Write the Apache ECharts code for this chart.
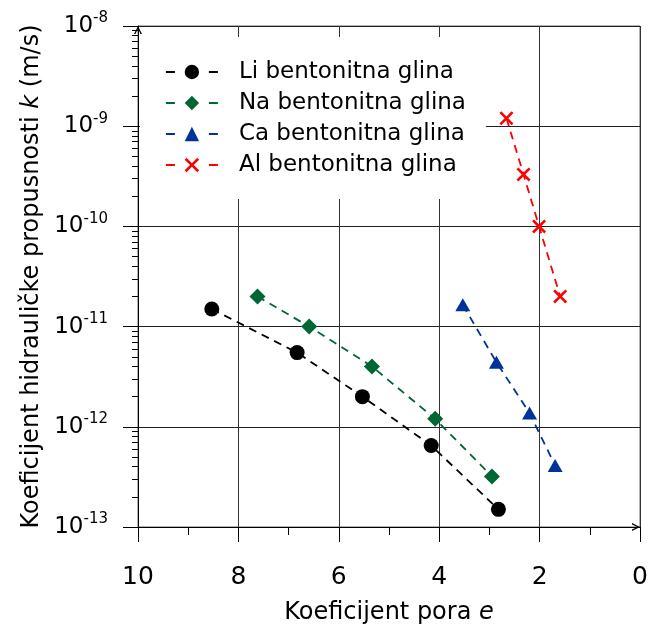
<!DOCTYPE html>
<html>
<head>
<meta charset="utf-8">
<script src="https://cdn.jsdelivr.net/npm/echarts@6/dist/echarts.min.js"></script>
<style>
html,body{margin:0;padding:0;background:#fff;}
#c{width:650px;height:627px;}
</style>
</head>
<body>
<div id="c"></div>
<script>
// Data
var seriesNames = ['Li bentonitna glina', 'Na bentonitna glina', 'Ca bentonitna glina', 'Al bentonitna glina'];
var liE = [8.53, 6.83, 5.53, 4.16, 2.82];
var liK = [1.5e-11, 5.5e-12, 2.0e-12, 6.5e-13, 1.5e-13];
var naE = [7.62, 6.59, 5.34, 4.08, 2.95];
var naK = [2.0e-11, 1.0e-11, 4.0e-12, 1.2e-12, 3.2e-13];
var caE = [3.53, 2.86, 2.20, 1.69];
var caK = [1.65e-11, 4.4e-12, 1.37e-12, 4.1e-13];
var alE = [2.66, 2.32, 2.01, 1.59];
var alK = [1.2e-9, 3.3e-10, 1.0e-10, 2.0e-11];
var xTicks = [10, 8, 6, 4, 2, 0];
var xMinorTicks = [9, 7, 5, 3, 1];
var yDecades = [-13, -12, -11, -10, -9, -8];
var minorMultipliers = [2, 3, 4, 5, 6, 7, 8, 9];

var FONT = 'DejaVu Sans';
var colors = ['#000000', '#006633', '#003399', '#ff0000'];
var chevron = 'path://M0,10 L5,0 L10,10 L8.2,10 L5,3.4 L1.8,10 Z';
var crossPath = 'path://M0,1.3 L1.3,0 L5,3.7 L8.7,0 L10,1.3 L6.3,5 L10,8.7 L8.7,10 L5,6.3 L1.3,10 L0,8.7 L3.7,5 Z';

function pairs(xs, ys) { return xs.map(function (x, i) { return [x, ys[i]]; }); }

var minorValues = [];
yDecades.slice(0, -1).forEach(function (d) {
  minorMultipliers.forEach(function (m) { minorValues.push(m * Math.pow(10, d)); });
});

var chart = echarts.init(document.getElementById('c'), null, {renderer: 'canvas'});

function mkSeries(name, data, color, symbol, size) {
  return {
    name: name, type: 'line', data: data, symbol: symbol, symbolSize: size,
    xAxisIndex: 0, yAxisIndex: 0,
    itemStyle: {color: color},
    lineStyle: {color: color, width: 1.8, type: [8, 6]},
    emphasis: {disabled: true},
    z: 3
  };
}

var gridRect = {left: 138, right: 10, top: 26, bottom: 100, outerBoundsMode: 'none', containLabel: false};

var option = {
  animation: false,
  backgroundColor: '#fff',
  grid: [
    Object.assign({show: true, borderColor: '#666', borderWidth: 1, backgroundColor: 'transparent'}, gridRect),
    Object.assign({show: false}, gridRect)
  ],
  legend: {
    left: 140, top: 37, orient: 'vertical',
    padding: [22, 20, 21, 25],
    backgroundColor: '#fff',
    itemWidth: 52, itemHeight: 18, itemGap: 5,
    lineStyle: {type: [9, 34], width: 1.8},
    textStyle: {fontFamily: FONT, fontSize: 23, color: '#000', lineHeight: 26, padding: [0, 0, 0, 16]},
    data: seriesNames,
    selectedMode: false,
    z: 10
  },
  xAxis: [{
    gridIndex: 0,
    type: 'value', min: 0, max: 10, interval: 2, inverse: true,
    name: 'Koeficijent pora {i|e}', nameLocation: 'middle', nameGap: 74,
    nameTextStyle: {fontFamily: FONT, fontSize: 24, color: '#000',
      rich: {i: {fontFamily: FONT, fontSize: 24, fontStyle: 'italic', color: '#000'}}},
    axisLine: {show: true, onZero: false, lineStyle: {color: '#000', width: 1},
      symbol: ['none', chevron], symbolSize: [13, 8], symbolOffset: [0, -4]},
    axisTick: {show: true, length: 15, inside: false, lineStyle: {color: '#000'}},
    splitLine: {show: true, lineStyle: {color: '#333', width: 1}},
    axisLabel: {fontFamily: FONT, fontSize: 25, color: '#000', margin: 38,
      formatter: function (v) { return xTicks.indexOf(v) >= 0 ? String(v) : ''; }}
  }, {
    gridIndex: 1,
    type: 'value', min: 0, max: 10, inverse: true, position: 'bottom',
    axisLine: {show: false, onZero: false},
    splitLine: {show: false},
    axisLabel: {show: false},
    axisTick: {show: true, length: 8, lineStyle: {color: '#000'}, customValues: xMinorTicks}
  }],
  yAxis: [{
    gridIndex: 0,
    type: 'log', logBase: 10, min: 1e-13, max: 1e-8,
    name: 'Koeficijent hidrauličke propusnosti {i|k} (m/s)', nameLocation: 'middle', nameGap: 89,
    nameTextStyle: {fontFamily: FONT, fontSize: 24, color: '#000',
      rich: {i: {fontFamily: FONT, fontSize: 24, fontStyle: 'italic', color: '#000'}}},
    axisLine: {show: true, onZero: false, lineStyle: {color: '#000', width: 1},
      symbol: ['none', chevron], symbolSize: [13, 8], symbolOffset: [0, -4]},
    axisTick: {show: true, length: 15, lineStyle: {color: '#000'}},
    splitLine: {show: true, lineStyle: {color: '#222', width: 1}},
    axisLabel: {
      margin: 30, color: '#000',
      formatter: function (v) {
        var p = Math.round(Math.log10(v));
        return yDecades.indexOf(p) >= 0 ? '{a|10}{b|' + p + '}' : '';
      },
      rich: {
        a: {fontFamily: FONT, fontSize: 23, color: '#000', lineHeight: 30},
        b: {fontFamily: FONT, fontSize: 15, color: '#000', verticalAlign: 'top', lineHeight: 15}
      }
    }
  }, {
    gridIndex: 1,
    type: 'log', logBase: 10, min: 1e-13, max: 1e-8, position: 'left',
    axisLine: {show: false, onZero: false},
    splitLine: {show: false},
    axisLabel: {show: false},
    axisTick: {show: true, length: 6, lineStyle: {color: '#000'}, customValues: minorValues}
  }],
  series: [
    mkSeries(seriesNames[0], pairs(liE, liK), colors[0], 'circle', 15),
    mkSeries(seriesNames[1], pairs(naE, naK), colors[1], 'diamond', 16),
    mkSeries(seriesNames[2], pairs(caE, caK), colors[2], 'triangle', [15, 13]),
    mkSeries(seriesNames[3], pairs(alE, alK), colors[3], crossPath, 14)
  ]
};
chart.setOption(option);
</script>
</body>
</html>
